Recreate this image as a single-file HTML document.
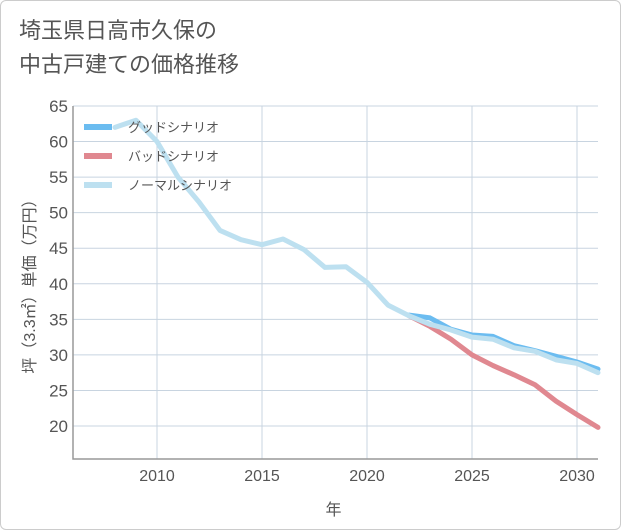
<!DOCTYPE html>
<html><head><meta charset="utf-8"><style>
body{margin:0;background:#fff;font-family:"Liberation Sans","Noto Sans CJK JP",sans-serif}
#wrap{position:relative;width:621px;height:530px;background:#fff;border:1px solid #ccc;box-sizing:border-box;border-radius:6px}
#title{position:absolute;left:18px;top:13px;font-size:22px;line-height:34px;color:#555}
</style></head><body>
<div id="wrap">
<div id="title">埼玉県日高市久保の<br>中古戸建ての価格推移</div>
<svg id="chart" width="621" height="530" style="position:absolute;left:0;top:0"></svg>
</div>
<script>
const years=[2008,2009,2010,2011,2012,2013,2014,2015,2016,2017,2018,2019,2020,2021,2022,2023,2024,2025,2026,2027,2028,2029,2030,2031];
const normal=[62,63,60,55,51.5,47.5,46.2,45.5,46.3,44.8,42.3,42.4,40.2,37,35.5,34.3,33.5,32.5,32.2,31,30.5,29.3,28.8,27.5];
const goodYears=[2022,2023,2024,2025,2026,2027,2028,2029,2030,2031];
const good=[35.6,35.2,33.6,32.8,32.6,31.3,30.6,29.8,29,28];
const bad=[35.5,34,32.2,30,28.5,27.2,25.8,23.5,21.6,19.8];
const yTicks=[20,25,30,35,40,45,50,55,60,65];
const xTicks=[2010,2015,2020,2025,2030];
const L=72,R=597,T=105,B=458;
const x=v=>L+(v-2006)*(R-L)/25;
const y=v=>425-(v-20)*(320/45);
const svg=document.getElementById('chart');const NS='http://www.w3.org/2000/svg';
function mk(t,a,p){const e=document.createElementNS(NS,t);for(const k in a)e.setAttribute(k,a[k]);(p||svg).appendChild(e);return e;}
const bg=mk('rect',{x:L,y:T,width:R-L,height:B-T,fill:'#fff'});


yTicks.forEach(v=>{const l=mk('line',{x1:L,x2:R,y1:y(v),y2:y(v),stroke:'#c8d4e0','stroke-width':1});


const t=mk('text',{x:L-5,y:y(v)+6,'text-anchor':'end','font-size':17,fill:'#555'});t.textContent=v;

});
xTicks.forEach(v=>{const l=mk('line',{x1:x(v),x2:x(v),y1:T,y2:B,stroke:'#c8d4e0','stroke-width':1});


const t=mk('text',{x:x(v),y:B+22,'text-anchor':'middle','font-size':16,fill:'#555'});t.textContent=v;

});
const ax=mk('path',{d:`M${L} ${T}V${B}H${R}`,stroke:'#999',fill:'none','stroke-width':1.5});


function line(xs,vs,c,w,n){const p=mk('polyline',{points:xs.map((yr,i)=>x(yr)+','+y(vs[i])).join(' '),fill:'none',stroke:c,'stroke-width':w,'stroke-linejoin':'round','stroke-linecap':'round'});

}
line(goodYears,bad,'#e08890',5,'bad-scenario-line');
line(goodYears,good,'#6bbcf0',5,'good-scenario-line');
line(years,normal,'#bde0f0',5,'normal-scenario-line');
[['グッドシナリオ','#6bbcf0'],['バッドシナリオ','#e08890'],['ノーマルシナリオ','#bde0f0']].forEach((d,i)=>{
const yy=126+i*29;
const s=mk('line',{x1:83,x2:111,y1:yy,y2:yy,stroke:d[1],'stroke-width':6});


const t=mk('text',{x:127,y:yy+5,'font-size':13,fill:'#555'});t.textContent=d[0];

});
const yt=mk('text',{x:0,y:0,'font-size':16,fill:'#555','text-anchor':'middle',transform:`translate(34,${(T+B)/2}) rotate(-90)`});yt.textContent='坪（3.3㎡）単価（万円）';


const xt=mk('text',{x:(L+R)/2-2,y:514,'font-size':16,fill:'#555','text-anchor':'middle'});xt.textContent='年';


</script>
</body></html>
